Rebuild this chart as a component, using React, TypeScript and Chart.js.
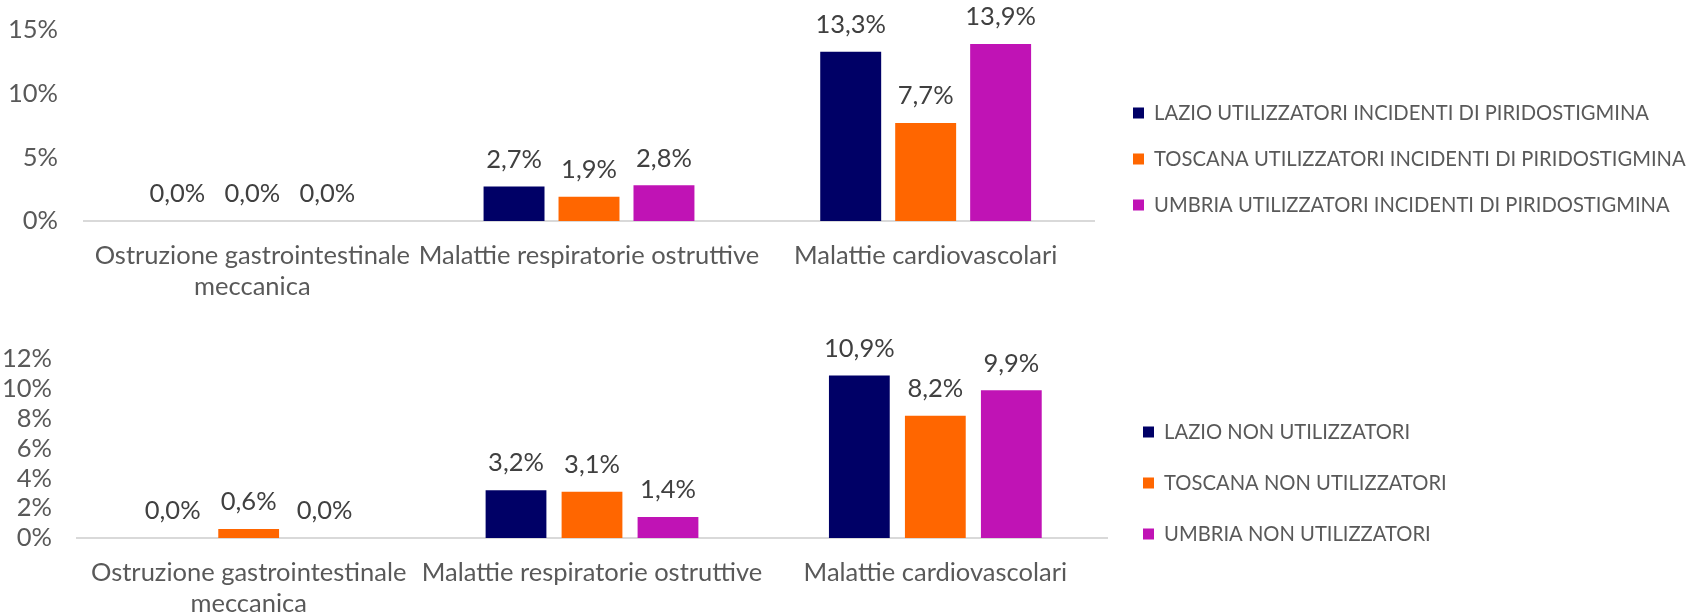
import React, { useEffect, useRef } from 'react';
import { Chart, registerables } from 'chart.js';

Chart.register(...registerables);

// ---------- data ----------
const CATEGORIES: (string | string[])[] = [
  ['Ostruzione gastrointestinale', 'meccanica'],
  'Malattie respiratorie ostruttive',
  'Malattie cardiovascolari',
];

const TOP_SERIES_NAMES = [
  'LAZIO UTILIZZATORI INCIDENTI DI PIRIDOSTIGMINA',
  'TOSCANA UTILIZZATORI INCIDENTI DI PIRIDOSTIGMINA',
  'UMBRIA UTILIZZATORI INCIDENTI DI PIRIDOSTIGMINA',
];
const TOP_LAZIO = [0.0, 2.7, 13.3];
const TOP_TOSCANA = [0.0, 1.9, 7.7];
const TOP_UMBRIA = [0.0, 2.8, 13.9];
const TOP_Y_MAX = 15;
const TOP_Y_STEP = 5;

const BOTTOM_SERIES_NAMES = [
  'LAZIO NON UTILIZZATORI',
  'TOSCANA NON UTILIZZATORI',
  'UMBRIA NON UTILIZZATORI',
];
const BOTTOM_LAZIO = [0.0, 3.2, 10.9];
const BOTTOM_TOSCANA = [0.6, 3.1, 8.2];
const BOTTOM_UMBRIA = [0.0, 1.4, 9.9];
const BOTTOM_Y_MAX = 12;
const BOTTOM_Y_STEP = 2;

const COLORS = ['#000066', '#FF6600', '#C013B5'];

// ---------- styles ----------
const FONT = 'Lato, "Open Sans", sans-serif';
const TEXT_COLOR = '#595959';
const LABEL_COLOR = '#404040';
const AXIS_FONT = 25.5;
const LEGEND_FONT = 20.2;
const LEGEND_BOX = 11;

const fmt = (v: number) => v.toFixed(1).replace('.', ',') + '%';

type PanelCfg = {
  height: number;
  top: number;
  names: string[];
  series: number[][];
  yMax: number;
  yStep: number;
  padTop: number;
  yWidth: number;
  yPad: number;
  xHeight: number;
  chartRight: number;
  legendLeft: number;
  legendFirstRow: number;
  legendRowGap: number;
  catPct: number;
  barPct: number;
};

function makePlugins(cfg: PanelCfg) {
  const legendPad = cfg.legendRowGap - LEGEND_FONT;
  const valueLabels = {
    id: 'valueLabels',
    afterDatasetsDraw(chart: any) {
      const ctx = chart.ctx;
      ctx.save();
      ctx.font = `${AXIS_FONT}px ${FONT}`;
      ctx.fillStyle = LABEL_COLOR;
      ctx.textAlign = 'center';
      ctx.textBaseline = 'middle';
      chart.data.datasets.forEach((ds: any, di: number) => {
        const meta = chart.getDatasetMeta(di);
        meta.data.forEach((el: any, i: number) => {
          ctx.fillText(fmt(ds.data[i]), el.x, el.y - 27);
        });
      });
      ctx.restore();
    },
  };
  const legendPlacer = {
    id: 'legendPlacer',
    beforeLayout(chart: any) {
      const leg = chart.legend;
      if (leg && !leg.__patched) {
        const orig = leg.fit;
        leg.fit = function () {
          orig.call(this);
          this.width = chart.width - cfg.chartRight;
        };
        leg.__patched = true;
      }
    },
    afterLayout(chart: any) {
      const leg = chart.legend;
      if (leg) {
        leg.left = cfg.legendLeft - legendPad;
        leg.top = cfg.legendFirstRow - LEGEND_FONT / 2 - legendPad;
      }
    },
  };
  return [valueLabels, legendPlacer];
}

function Panel({ cfg }: { cfg: PanelCfg }) {
  const ref = useRef<HTMLCanvasElement>(null);
  useEffect(() => {
    const legendPad = cfg.legendRowGap - LEGEND_FONT;
    const chart = new Chart(ref.current as HTMLCanvasElement, {
      type: 'bar',
      data: {
        labels: CATEGORIES as any,
        datasets: cfg.series.map((s, i) => ({
          label: cfg.names[i],
          data: s,
          backgroundColor: COLORS[i],
          borderWidth: 0,
          categoryPercentage: cfg.catPct,
          barPercentage: cfg.barPct,
        })),
      },
      options: {
        responsive: false,
        animation: false,
        layout: { autoPadding: false, padding: { top: cfg.padTop, left: 0, right: 0, bottom: 0 } },
        plugins: {
          tooltip: { enabled: false },
          legend: {
            position: 'right',
            align: 'start',
            labels: {
              boxWidth: LEGEND_BOX,
              boxHeight: LEGEND_BOX,
              padding: legendPad,
              color: TEXT_COLOR,
              font: { family: FONT, size: LEGEND_FONT },
            },
          },
        },
        scales: {
          x: {
            grid: { display: false, drawTicks: false },
            border: { display: true, color: '#D9D9D9', width: 2 },
            ticks: {
              color: TEXT_COLOR,
              font: { family: FONT, size: AXIS_FONT, lineHeight: 1.22 },
              padding: 19,
              maxRotation: 0,
              minRotation: 0,
              autoSkip: false,
            },
            afterFit: (s: any) => {
              s.height = cfg.xHeight;
              s.paddingLeft = 0;
              s.paddingRight = 0;
            },
          },
          y: {
            min: 0,
            max: cfg.yMax,
            grid: { display: false, drawTicks: false },
            border: { display: false },
            ticks: {
              stepSize: cfg.yStep,
              autoSkip: false,
              color: TEXT_COLOR,
              padding: cfg.yPad,
              font: { family: FONT, size: AXIS_FONT },
              callback: (v: any) => v + '%',
            },
            afterFit: (s: any) => {
              s.width = cfg.yWidth;
              s.paddingTop = 0;
              s.paddingBottom = 0;
            },
          },
        },
      },
      plugins: makePlugins(cfg) as any,
    });
    return () => chart.destroy();
  }, []);
  return (
    <canvas
      ref={ref}
      width={1694}
      height={cfg.height}
      style={{ position: 'absolute', left: 0, top: cfg.top, display: 'block' }}
    />
  );
}

const TOP_CFG: PanelCfg = {
  height: 305,
  top: 0,
  names: TOP_SERIES_NAMES,
  series: [TOP_LAZIO, TOP_TOSCANA, TOP_UMBRIA],
  yMax: TOP_Y_MAX,
  yStep: TOP_Y_STEP,
  padTop: 30,
  yWidth: 84,
  yPad: 26,
  xHeight: 84,
  chartRight: 1094,
  legendLeft: 1133,
  legendFirstRow: 113,
  legendRowGap: 46,
  catPct: 0.668,
  barPct: 0.813,
};

const BOTTOM_CFG: PanelCfg = {
  height: 311,
  top: 305,
  names: BOTTOM_SERIES_NAMES,
  series: [BOTTOM_LAZIO, BOTTOM_TOSCANA, BOTTOM_UMBRIA],
  yMax: BOTTOM_Y_MAX,
  yStep: BOTTOM_Y_STEP,
  padTop: 54,
  yWidth: 77,
  yPad: 25,
  xHeight: 78,
  chartRight: 1107,
  legendLeft: 1143,
  legendFirstRow: 127,
  legendRowGap: 51,
  catPct: 0.664,
  barPct: 0.8,
};

export default function App() {
  return (
    <div
      style={{
        position: 'fixed',
        left: 0,
        top: 0,
        width: 1694,
        height: 616,
        background: '#ffffff',
        overflow: 'hidden',
      }}
    >
      <Panel cfg={TOP_CFG} />
      <Panel cfg={BOTTOM_CFG} />
    </div>
  );
}
